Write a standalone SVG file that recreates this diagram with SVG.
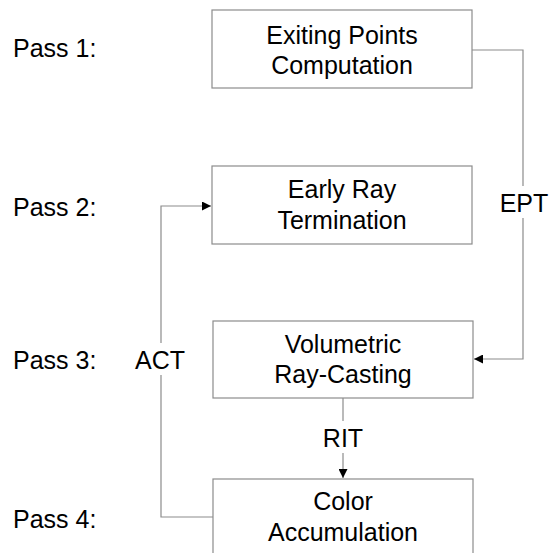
<svg xmlns="http://www.w3.org/2000/svg" width="549" height="553" viewBox="0 0 549 553">
  <style>
    .box { fill: #ffffff; stroke: #8c8c8c; stroke-width: 1.2; }
    .wire { fill: none; stroke: #8c8c8c; stroke-width: 1.2; }
    text { font-family: "Liberation Sans", Arial, sans-serif; font-size: 25px; fill: #000000; }
    .mid { text-anchor: middle; }
    .bg { fill: #ffffff; }
  </style>
  <defs>
    <marker id="arrow" viewBox="0 0 10 10" refX="10" refY="5" markerWidth="10" markerHeight="9" markerUnits="userSpaceOnUse" orient="auto">
      <path d="M0,0 L10,5 L0,10 Z" fill="#000000"/>
    </marker>
  </defs>

  <rect width="549" height="553" fill="#ffffff"/>

  <!-- pass labels -->
  <g id="pass-labels">
    <text x="13" y="57">Pass 1:</text>
    <text x="13" y="216">Pass 2:</text>
    <text x="13" y="369">Pass 3:</text>
    <text x="13" y="528">Pass 4:</text>
  </g>

  <!-- connectors -->
  <g id="connectors">
    <polyline class="wire" points="472,50 523,50 523,359 474,359" marker-end="url(#arrow)"/>
    <polyline class="wire" points="213,517 161,517 161,206 211,206" marker-end="url(#arrow)"/>
    <line class="wire" x1="343" y1="398" x2="343" y2="478" marker-end="url(#arrow)"/>
    <rect class="bg" x="498" y="186" width="51" height="32"/>
    <text class="mid" x="524" y="212">EPT</text>
    <rect class="bg" x="132" y="343" width="56" height="32"/>
    <text class="mid" x="160" y="369">ACT</text>
    <rect class="bg" x="318" y="421" width="50" height="32"/>
    <text class="mid" x="343" y="447">RIT</text>
  </g>

  <g id="exiting-points">
    <rect class="box" x="212" y="10" width="260" height="78"/>
    <text class="mid" x="342" y="44">Exiting Points</text>
    <text class="mid" x="342" y="74">Computation</text>
  </g>

  <g id="early-ray-termination">
    <rect class="box" x="212" y="166" width="260" height="78"/>
    <text class="mid" x="342" y="198">Early Ray</text>
    <text class="mid" x="342" y="229">Termination</text>
  </g>

  <g id="volumetric-ray-casting">
    <rect class="box" x="213" y="321" width="260" height="77"/>
    <text class="mid" x="343" y="353">Volumetric</text>
    <text class="mid" x="343" y="383">Ray-Casting</text>
  </g>

  <g id="color-accumulation">
    <rect class="box" x="213" y="479" width="260" height="80"/>
    <text class="mid" x="343" y="510">Color</text>
    <text class="mid" x="343" y="541">Accumulation</text>
  </g>
</svg>
